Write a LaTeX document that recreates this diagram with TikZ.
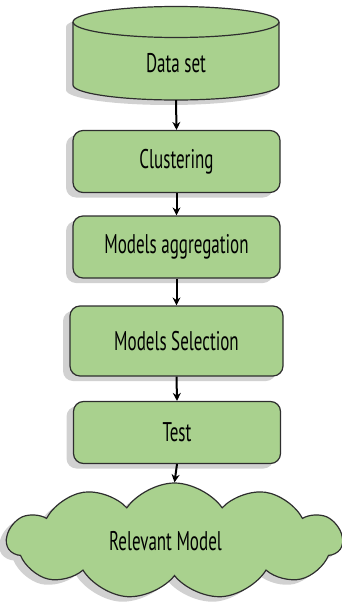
\documentclass[tikz,border=0pt]{standalone}
\usepackage{fontspec}
\setmainfont{PT Sans}[FakeStretch=0.63]
\usetikzlibrary{arrows.meta,shapes.symbols,shadows}
\definecolor{stepgreen}{HTML}{A9D18E}
\definecolor{stepline}{HTML}{2E2E2E}
\tikzset{
  softshadow/.style={drop shadow={shadow xshift=-7pt, shadow yshift=-5pt, fill=black, opacity=0.18}},
  stepfont/.style={font=\fontsize{27}{29}\selectfont},
  stepline/.style={draw=stepline, line width=1.2pt},
  stepbox/.style={stepline, fill=stepgreen, rounded corners=10pt,
    minimum width=207pt, minimum height=62pt, stepfont, softshadow},
  flow/.style={line width=2pt, -{Stealth[length=8pt,width=8pt]}}
}

\begin{document}
\begin{tikzpicture}[x=1pt,y=1pt]
	%%%%% START %%%%%
	\useasboundingbox (0,0) rectangle (342,-602);
	
	% data set cylinder
	\draw[stepline, fill=stepgreen, softshadow] (73,-22) -- (73,-85)
	      arc[start angle=180, end angle=360, x radius=103, y radius=15] -- (279,-22)
	      arc[start angle=0, end angle=180, x radius=103, y radius=15.5] -- cycle;
	\draw[stepline] (73,-22) arc[start angle=180, end angle=360, x radius=103, y radius=15.5];
	\node[stepfont, minimum width=206pt, minimum height=74pt] (data) at (176,-63) {Data set};
	
	\node[stepbox] (cluster) at (176.5,-161.5) {Clustering};
	\node[stepbox] (aggr) at (176.5,-247) {Models aggregation};
	\node[stepbox, minimum width=213pt, minimum height=70pt] (select) at (176.5,-341) {Models Selection};
	\node[stepbox] (test) at (177,-432.5) {Test};
	
	\node[cloud, cloud puffs=11, cloud puff arc=110, aspect=3, stepline, fill=stepgreen,
	      minimum width=335pt, minimum height=116pt, stepfont, softshadow]
	      (model) at (174.5,-541) {\hspace*{-18pt}Relevant Model};
	
	\draw[flow] (data.south) -- (cluster.north);
	\draw[flow] (cluster.south) -- (aggr.north);
	\draw[flow] (aggr.south) -- (select.north);
	\draw[flow] (select.south) -- (test.north);
	\draw[flow] (test.south) -- (model.north);
	%%%%% END %%%%%
\end{tikzpicture}
\end{document}
